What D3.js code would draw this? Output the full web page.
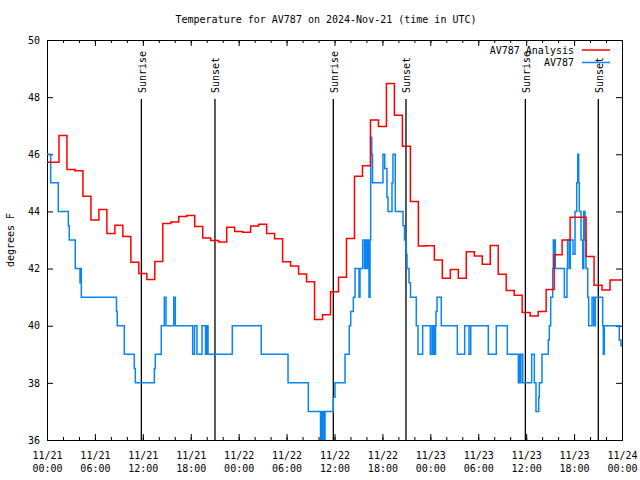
<!DOCTYPE html>
<html><head><meta charset="utf-8">
<script src="https://cdn.jsdelivr.net/npm/d3@7"></script>
<style>
html,body{margin:0;padding:0;background:#fff;}
svg text{font-family:"DejaVu Sans Mono",monospace;font-size:10px;fill:#000;}
</style></head>
<body>
<svg id="chart" width="640" height="480"></svg>
<script>
// ---- data ----
const titleText = "Temperature for AV787 on 2024-Nov-21 (time in UTC)";
const yLabel = "degrees F";
const startTime = "2024-11-21T00:00:00Z";
const endTime = "2024-11-24T00:00:00Z";
const yTicks = [36, 38, 40, 42, 44, 46, 48, 50];
const seriesNames = ["AV787 Analysis", "AV787"];
const seriesColors = ["#ff0000", "#0a84f0"];
// hourly analysis values, hour 0 .. 72
const analysisTemps = [45.72, 45.72, 46.66, 45.47, 45.42, 44.53, 43.70, 44.07, 43.23, 43.52, 43.12, 42.22, 41.83, 41.62, 42.25, 43.58, 43.63, 43.82, 43.86, 43.47, 43.07, 42.98, 42.93, 43.45, 43.30, 43.27, 43.49, 43.55, 43.23, 43.04, 42.24, 42.09, 41.81, 41.54, 40.22, 40.38, 41.19, 41.70, 43.05, 45.23, 45.60, 47.20, 46.97, 48.48, 47.37, 46.28, 44.35, 42.79, 42.80, 42.30, 41.66, 41.97, 41.66, 42.59, 42.44, 42.15, 42.81, 41.80, 41.23, 41.07, 40.46, 40.34, 40.50, 41.27, 42.48, 43.00, 43.80, 43.80, 42.42, 41.42, 41.25, 41.60, 41.60];
// observations: hours since start and temperature (step after)
const obsHours = [0.00, 0.46, 1.41, 2.67, 2.79, 3.54, 4.13, 4.22, 4.30, 8.70, 8.80, 9.68, 10.93, 11.06, 13.44, 13.56, 14.31, 14.69, 14.90, 15.87, 16.07, 18.24, 18.47, 18.78, 19.41, 19.85, 19.97, 20.16, 23.20, 26.83, 30.18, 32.72, 34.25, 34.37, 34.44, 34.56, 34.62, 34.81, 35.85, 36.06, 37.32, 37.85, 38.03, 38.36, 38.57, 39.07, 39.19, 39.53, 39.76, 39.88, 40.07, 40.20, 40.32, 40.45, 40.53, 40.66, 40.76, 42.07, 42.29, 42.57, 42.70, 43.20, 43.32, 43.61, 44.58, 44.77, 44.95, 45.08, 45.33, 45.52, 46.24, 46.46, 47.04, 48.00, 48.21, 48.33, 48.46, 48.52, 48.65, 48.71, 48.84, 49.37, 51.38, 52.30, 52.84, 53.06, 55.26, 56.26, 57.64, 59.02, 59.17, 59.29, 59.35, 59.57, 60.69, 61.02, 61.23, 61.57, 61.65, 61.98, 62.77, 62.90, 63.07, 63.32, 63.40, 63.48, 63.55, 63.65, 64.78, 65.11, 65.18, 65.40, 65.53, 65.87, 66.12, 66.33, 66.46, 66.58, 66.66, 66.87, 67.08, 67.21, 67.37, 67.49, 67.71, 67.83, 68.25, 68.46, 68.66, 69.58, 69.66, 69.78, 71.66, 71.87, 72.00];
const obsTemps = [46, 45, 44, 43.5, 43, 42, 41.5, 42, 41, 40.5, 40, 39, 38.5, 38, 38.5, 39, 40, 41, 40, 41, 40, 39, 40, 39, 40, 39, 40, 39, 40, 39, 38, 37, 36, 37, 36, 37, 36, 37, 37.5, 38, 39, 40, 40.5, 41, 42, 41, 42, 43, 42, 43, 42, 43, 41, 43, 46.6, 46, 45, 46, 45.5, 44.5, 44, 45, 46, 44, 43.5, 43, 42.5, 42, 41.5, 41, 40, 39, 40, 39, 40, 39, 40, 39, 40, 40.5, 41, 40, 39, 40, 39, 40, 39, 40, 39, 38, 39, 38, 39, 38, 39, 38, 37, 37.5, 38, 39, 39.5, 40, 41, 42, 43, 42, 43, 42, 41, 42, 43, 42, 43, 42.5, 44, 45, 46, 45, 44, 43, 42, 44, 43, 42, 41, 40, 41, 40, 41, 40, 39, 40, 39.5, 39.3, 39.3];
const sunEvents = ["Sunrise", "Sunset", "Sunrise", "Sunset", "Sunrise", "Sunset"];
const sunTimes = ["2024-11-21T11:49:00Z", "2024-11-21T21:02:00Z", "2024-11-22T11:51:00Z", "2024-11-22T20:57:00Z", "2024-11-23T11:54:00Z", "2024-11-23T21:02:00Z"];

// ---- chart ----
const svg = d3.select("#chart");
const m = {left: 47, right: 622, top: 40, bottom: 440};
const t0 = new Date(startTime);
const hourToDate = h => new Date(t0.getTime() + h * 3600000);
const x = d3.scaleUtc().domain([t0, new Date(endTime)]).range([m.left, m.right]);
const y = d3.scaleLinear().domain([36, 50]).range([m.bottom, m.top]);

// minor ticks
const minorTicks = d3.utcHour.every(2).range(t0, new Date(endTime));
const fmtDate = d3.utcFormat("%m/%d"), fmtTime = d3.utcFormat("%H:%M");

const gB = svg.append("g").attr("transform", `translate(0,${m.bottom})`)
  .call(d3.axisBottom(x).tickValues(minorTicks).tickSize(-3).tickFormat(""));
const gT = svg.append("g").attr("transform", `translate(0,${m.top})`)
  .call(d3.axisTop(x).tickValues(minorTicks).tickSize(-3).tickFormat(""));
const majorTicks = d3.utcHour.every(6).range(t0, new Date(new Date(endTime).getTime() + 1));
const gB2 = svg.append("g").attr("transform", `translate(0,${m.bottom})`)
  .call(d3.axisBottom(x).tickValues(majorTicks).tickSize(-6).tickPadding(10).tickFormat(""));
gB2.selectAll(".tick").append("text")
  .attr("text-anchor", "middle")
  .each(function(d){
    const t = d3.select(this);
    t.append("tspan").attr("x", 0).attr("y", 19).text(fmtDate(d));
    t.append("tspan").attr("x", 0).attr("y", 32).text(fmtTime(d));
  });
const gT2 = svg.append("g").attr("transform", `translate(0,${m.top})`)
  .call(d3.axisTop(x).tickValues(majorTicks).tickSize(-6).tickFormat(""));
const gL = svg.append("g").attr("transform", `translate(${m.left},0)`)
  .call(d3.axisLeft(y).tickValues(yTicks).tickSize(-6).tickPadding(7).tickFormat(d3.format("d")));
const gR = svg.append("g").attr("transform", `translate(${m.right},0)`)
  .call(d3.axisRight(y).tickValues(yTicks).tickSize(-6).tickFormat(""));
[gB, gT, gB2, gT2, gL, gR].forEach(g => {
  g.select(".domain").remove();
  g.selectAll("line").attr("stroke", "#000");
  g.selectAll("text").attr("font-family", "DejaVu Sans Mono").attr("font-size", 10).attr("fill", "#000");
});

// frame
svg.append("rect").attr("x", m.left + 0.5).attr("y", m.top + 0.5)
  .attr("width", m.right - m.left).attr("height", m.bottom - m.top)
  .attr("fill", "none").attr("stroke", "#000").attr("stroke-width", 1);

// title & y label
svg.append("text").attr("x", 326).attr("y", 23).attr("text-anchor", "middle").text(titleText);
svg.append("text").attr("transform", "translate(14,240) rotate(-90)").attr("text-anchor", "middle").text(yLabel);

// sun lines
const sunData = sunTimes.map((t, i) => ({time: new Date(t), name: sunEvents[i]}));
svg.append("g").selectAll("line").data(sunData).join("line")
  .attr("x1", d => x(d.time)).attr("x2", d => x(d.time))
  .attr("y1", 99).attr("y2", m.bottom)
  .attr("stroke", "#000").attr("stroke-width", 1.3);
svg.append("g").selectAll("text").data(sunData).join("text")
  .attr("transform", d => `translate(${x(d.time) + 4.5},93) rotate(-90)`)
  .attr("text-anchor", "start").text(d => d.name);

// series
const analysis = analysisTemps.map((v, i) => ({t: hourToDate(i), v}));
const obs = obsHours.map((h, i) => ({t: hourToDate(h), v: obsTemps[i]}));
const clip = svg.append("clipPath").attr("id", "clip").append("rect")
  .attr("x", m.left).attr("y", m.top).attr("width", m.right - m.left).attr("height", m.bottom - m.top);

svg.append("path").datum(obs)
  .attr("clip-path", "url(#clip)")
  .attr("fill", "none").attr("stroke", seriesColors[1]).attr("stroke-width", 1.5)
  .attr("d", d3.line().x(d => x(d.t)).y(d => y(d.v)).curve(d3.curveStepAfter));
svg.append("path").datum(analysis)
  .attr("clip-path", "url(#clip)")
  .attr("fill", "none").attr("stroke", seriesColors[0]).attr("stroke-width", 1.5)
  .attr("d", d3.line().x(d => x(d.t)).y(d => y(d.v)).curve(d3.curveStep));

// legend
const leg = svg.append("g");
seriesNames.forEach((name, i) => {
  const yy = 50 + i * 12.5;
  leg.append("text").attr("x", 574).attr("y", yy).attr("dy", "0.35em").attr("text-anchor", "end").text(name);
  leg.append("line").attr("x1", 582).attr("x2", 610).attr("y1", yy).attr("y2", yy)
    .attr("stroke", seriesColors[i]).attr("stroke-width", 1.5);
});
</script>
</body></html>
